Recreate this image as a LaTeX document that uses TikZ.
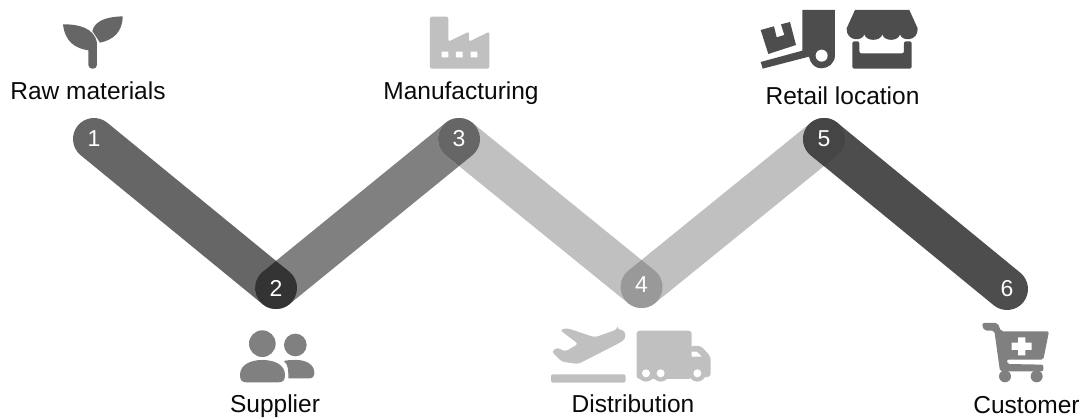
\documentclass[tikz,border=0pt]{standalone}
\usepackage{fontspec}
\setmainfont{Liberation Sans}
\usetikzlibrary{backgrounds}
\definecolor{dark}{HTML}{4D4D4D}
\definecolor{darker}{HTML}{333333}
\definecolor{slate}{HTML}{666666}
\definecolor{mid}{HTML}{808080}
\definecolor{soft}{HTML}{999999}
\definecolor{pale}{HTML}{C0C0C0}
\definecolor{ink}{HTML}{0A0A0A}
\tikzstyle{hub} = [circle, minimum size=42pt, inner sep=0pt, text=white, font=\fontsize{23}{27}\selectfont]
\tikzstyle{caption} = [inner sep=0pt, text=ink, text height=18pt, text depth=6pt, font=\fontsize{24.5}{28}\selectfont]
\tikzstyle{line} = [line width=42pt, line cap=round]
\tikzstyle{zoomed} = [x=0.3333pt, y=-0.3333pt]
\newcommand{\dropup}[2]{\fill[#2] (#1.center) ++(0,-27) -- ++(13.3,10.7) arc[start angle=-50.8, end angle=230.8, radius=21] -- cycle;}
\newcommand{\dropdown}[2]{\fill[#2] (#1.center) ++(0,27) -- ++(13.3,-10.7) arc[start angle=50.8, end angle=-230.8, radius=21] -- cycle;}
\begin{document}
\begin{tikzpicture}[x=1pt, y=-1pt]
        \useasboundingbox (0,0) rectangle (1085,419);
        \node[hub] (raw) at (94,139) {1};
        \node[hub] (supplier) at (276,288) {2};
        \node[hub] (factory) at (459,139) {3};
        \coordinate (bend) at (641.5,287);
        \node[hub] (transport) at (641.5,285) {4};
        \node[hub] (retail) at (824,139) {5};
        \node[hub] (customer) at (1007,289) {6};
        \node[caption, above of=raw, node distance=45.5pt, xshift=-6pt] (rawlabel) {Raw materials};
        \node[caption, below of=supplier, node distance=119pt, xshift=-1pt] (supplierlabel) {Supplier};
        \node[caption, above of=factory, node distance=45.5pt, xshift=2pt] (factorylabel) {Manufacturing};
        \node[caption, below of=transport, node distance=122pt, xshift=-8.5pt] (transportlabel) {Distribution};
        \node[caption, above of=retail, node distance=40.5pt, xshift=18.5pt] (retaillabel) {Retail location};
        \node[caption, below of=customer, node distance=118.5pt, xshift=19.5pt] (customerlabel) {Customer};
        \begin{scope}[on background layer]
            \draw[line, slate] (raw.center) -- (supplier.center);
            \draw[line, mid] (supplier.center) -- (factory.center);
            \draw[line, pale] (factory.center) -- (bend);
            \draw[line, pale] (bend) -- (retail.center);
            \draw[line, dark] (retail.center) -- (customer.center);
            \dropup{supplier}{darker}
            \dropdown{factory}{slate}
            \dropup{bend}{soft}
            \dropdown{retail}{dark!90!black}
        \end{scope}
        % sprout
        \begin{scope}[shift={(0,0)}, zoomed]
            \fill[slate] (189,73) .. controls (230,72) and (285,82) .. (291,130) -- (291,195) .. controls (291,210) and (265,210) .. (265,195) -- (265,151) .. controls (225,145) and (195,125) .. (189,73) -- cycle;
            \fill[slate] (368,49) .. controls (325,50) and (285,60) .. (277,93) -- (300,128) .. controls (340,120) and (368,95) .. (368,49) -- cycle;
        \end{scope}
        % people
        \begin{scope}[shift={(200,250)}, zoomed]
            \fill[mid] (187,281) circle[radius=40] (286,285) circle[radius=34];
            \fill[mid] (120,375) .. controls (120,345) and (150,330) .. (187,330) .. controls (225,330) and (255,345) .. (255,375) .. controls (255,390) and (250,397) .. (235,397) -- (140,397) .. controls (125,397) and (120,390) .. (120,375) -- cycle;
            \fill[mid] (252,333) .. controls (262,330) and (275,330) .. (290,330) .. controls (320,330) and (343,345) .. (343,368) .. controls (343,380) and (338,385) .. (328,385) -- (265,385) .. controls (265,360) and (265,345) .. (252,333) -- cycle;
        \end{scope}
        % factory
        \begin{scope}[shift={(370,0)}, zoomed]
            \fill[pale, rounded corners=2pt] (180,50) -- (235,50) -- (235,125) -- (297,95) -- (297,125) -- (358,95) -- (358,206) -- (180,206) -- cycle;
            \fill[white] (215,155) rectangle (235,172) (258,155) rectangle (278,172) (302,155) rectangle (322,172);
        \end{scope}
        % plane and truck
        \begin{scope}[shift={(530,260)}, zoomed]
            \fill[pale, rounded corners=2pt] (63,343) rectangle (287,368);
            \fill[pale, rounded corners=3pt] (262,208) -- (195,232) -- (110,204) -- (90,210) -- (145,252) -- (105,275) -- (82,262) -- (65,275) -- (95,305) -- (145,312) -- (270,248) .. controls (290,235) and (290,210) .. (262,208) -- cycle;
            \fill[pale, rounded corners=3pt] (320,212) rectangle (485,357);
            \fill[pale, rounded corners=3pt] (480,258) -- (513,258) -- (542,290) -- (542,350) -- (480,357) -- cycle;
            \fill[pale] (348,340) circle[radius=25] (392,340) circle[radius=25] (502,340) circle[radius=25];
            \fill[white] (348,340) circle[radius=12] (392,340) circle[radius=12] (502,340) circle[radius=12];
            \fill[white] (485,275) -- (500,275) -- (515,290) -- (485,290) -- cycle;
        \end{scope}
        % forklift and store
        \begin{scope}[shift={(740,0)}, zoomed]
            \fill[dark] (62,90) -- (102,79) -- (110,112) -- (133,105) -- (123,73) -- (150,66) -- (168,135) -- (85,162) -- cycle;
            \fill[dark] (187,30) -- (285,30) -- (285,165) .. controls (285,190) and (265,205) .. (243,205) .. controls (225,205) and (210,190) .. (207,170) -- (68,206) -- (62,186) -- (187,152) -- cycle;
            \fill[white] (245,167) circle[radius=18];
            \fill[dark] (345,30) -- (508,30) -- (533,85) .. controls (535,125) and (485,125) .. (480,103) .. controls (475,125) and (432,125) .. (427,103) .. controls (422,125) and (378,125) .. (373,103) .. controls (368,125) and (318,125) .. (320,85) -- cycle;
            \fill[dark, rounded corners=2pt] (337,124) -- (358,124) -- (358,160) -- (492,160) -- (492,124) -- (515,124) -- (515,206) -- (337,206) -- cycle;
        \end{scope}
        % cart
        \begin{scope}[shift={(975,318)}, zoomed]
            \fill[mid, rounded corners=2pt] (22,15) -- (68,15) -- (78,40) -- (222,40) -- (205,125) -- (95,125) -- (97,138) -- (205,140) -- (205,160) -- (75,160) -- (58,38) -- (30,38) -- (22,27) -- cycle;
            \fill[mid] (90,175) circle[radius=18] (185,175) circle[radius=18];
            \fill[white] (129,58) rectangle (151,112) (110,74) rectangle (170,96);
        \end{scope}
    \end{tikzpicture}
\end{document}
